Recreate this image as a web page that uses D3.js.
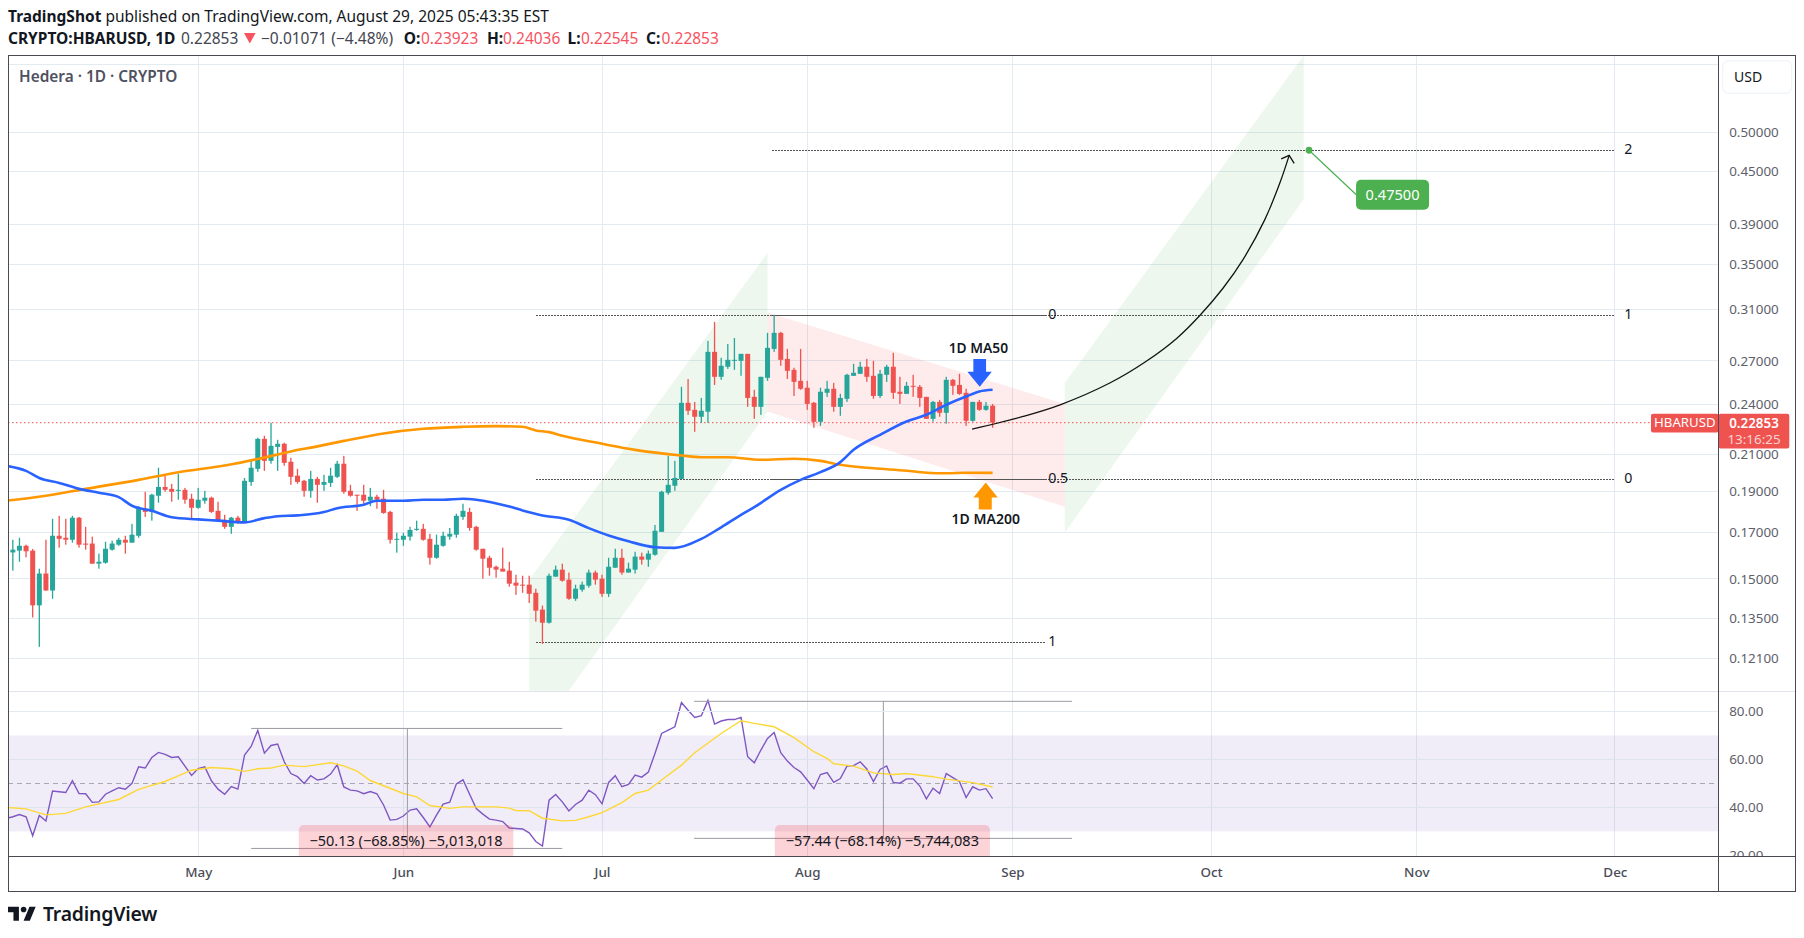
<!DOCTYPE html>
<html>
<head>
<meta charset="utf-8">
<title>CRYPTO:HBARUSD, 1D</title>
<script src="https://cdn.jsdelivr.net/npm/d3@7"></script>
<style>
  html, body { margin: 0; padding: 0; background: #fff; }
  svg { display: block; font-family: "Noto Sans", sans-serif; }
</style>
</head>
<body>
<div id="chart"></div>
<script>
// daily candles, first one is Apr 3 2025
const firstDay = Date.UTC(2025, 3, 3);

const candleOpen = [
  .1611,.1619,.1640,.1619,.1397,.1522,.1454,.1685,.1676,.1667,.1769,.1650,.1650,.1563,.1567,.1623,.1645,.1667,.1654,.1685,.1812,.1797,.1877,.1922,.1912,.1902,.1907,.1862,
  .1817,.1852,.1867,.1802,.1759,.1726,.1769,.1750,.1948,.2018,.2188,.2062,.2141,.2159,.2057,.1981,.1954,.1902,.1964,.1933,.1943,.1975,.2046,.1902,.1882,.1882,.1852,.1872,.1862,.1797,.1667,
  .1667,.1681,.1712,.1717,.1671,.1588,.1640,.1681,.1690,.1773,.1797,.1726,.1627,.1588,.1550,.1542,.1534,.1485,.1477,.1477,.1445,.1381,.1333,.1509,.1538,.1497,.1422,.1457,.1473,.1526,
  .1501,.1441,.1546,.1588,.1526,.1538,.1593,.1580,.1601,.1703,.1892,.1928,.1964,.2411,.2366,.2322,.2354,.2766,.2586,.2657,.2700,.2700,.2751,.2450,.2385,.2579,.2788,.2911,.2714,.2635,.2558,
  .2511,.2411,.2291,.2477,.2504,.2385,.2437,.2593,.2607,.2657,.2593,.2456,.2600,.2657,.2484,.2470,.2524,.2517,.2450,.2309,.2417,.2347,.2565,.2530,.2477,.2297,.2417,.2366,.23923
];
const candleHigh = [
  .1667,.1676,.1645,.1626,.1542,.1667,.1764,.1778,.1764,.1778,.1773,.1726,.1681,.1606,.1658,.1663,.1676,.1685,.1740,.1825,.1897,.1887,.2024,.1981,.1938,.1991,.1917,.1887,
  .1917,.1902,.1872,.1847,.1783,.1773,.1778,.1969,.2062,.2194,.2206,.2285,.2182,.2165,.2079,.2018,.1959,.2007,.1975,.1986,.2024,.2062,.2090,.1933,.1882,.1933,.1917,.1882,.1907,.1802,.1699,
  .1699,.1726,.1755,.1740,.1694,.1690,.1703,.1721,.1788,.1837,.1817,.1731,.1627,.1597,.1555,.1632,.1571,.1517,.1513,.1513,.1461,.1396,.1522,.1555,.1563,.1526,.1477,.1489,.1538,.1534,
  .1517,.1588,.1627,.1627,.1567,.1614,.1610,.1619,.1735,.1902,.2090,.2062,.2517,.2571,.2417,.2443,.2849,.2999,.2722,.2825,.2871,.2751,.2751,.2497,.2586,.2911,.3056,.2919,.2788,.2650,.2788,
  .2558,.2417,.2511,.2558,.2544,.2470,.2607,.2678,.2693,.2714,.2700,.2635,.2671,.2759,.2586,.2551,.2600,.2530,.2450,.2424,.2430,.2586,.2571,.2607,.2504,.2417,.2430,.2417,.24036
];
const candleLow = [
  .1534,.1571,.1590,.1352,.1249,.1453,.1422,.1632,.1645,.1654,.1632,.1623,.1563,.1542,.1563,.1619,.1640,.1606,.1654,.1676,.1773,.1755,.1842,.1897,.1847,.1857,.1837,.1759,
  .1812,.1837,.1792,.1750,.1717,.1694,.1740,.1750,.1928,.2002,.2007,.2046,.2007,.2035,.1933,.1938,.1872,.1867,.1842,.1902,.1922,.1969,.1887,.1872,.1802,.1837,.1825,.1812,.1788,.1650,.1610,
  .1640,.1663,.1708,.1663,.1559,.1584,.1636,.1667,.1676,.1759,.1708,.1619,.1501,.1513,.1505,.1530,.1469,.1437,.1445,.1406,.1337,.1259,.1330,.1509,.1489,.1418,.1414,.1449,.1465,.1477,
  .1429,.1429,.1546,.1517,.1526,.1522,.1559,.1550,.1597,.1703,.1882,.1902,.1964,.2334,.2230,.2285,.2285,.2530,.2565,.2642,.2635,.2593,.2385,.2309,.2334,.2558,.2766,.2664,.2571,.2456,.2497,
  .2366,.2254,.2266,.2450,.2354,.2328,.2417,.2593,.2607,.2551,.2437,.2443,.2551,.2437,.2404,.2470,.2450,.2385,.2309,.2291,.2322,.2279,.2463,.2463,.2266,.2291,.2360,.2360,.22545
];
const candleClose = [
  .1623,.1640,.1616,.1397,.1522,.1454,.1685,.1671,.1667,.1769,.1645,.1645,.1563,.1571,.1627,.1650,.1667,.1654,.1690,.1812,.1797,.1882,.1922,.1907,.1897,.1907,.1857,.1817,
  .1857,.1867,.1797,.1755,.1726,.1769,.1750,.1954,.2024,.2188,.2062,.2147,.2159,.2051,.1975,.1948,.1902,.1964,.1933,.1948,.1981,.2046,.1897,.1877,.1877,.1852,.1872,.1857,.1792,.1667,.1671,
  .1685,.1712,.1717,.1667,.1588,.1645,.1685,.1694,.1778,.1802,.1721,.1623,.1584,.1546,.1538,.1530,.1481,.1473,.1473,.1441,.1377,.1333,.1513,.1538,.1493,.1422,.1461,.1477,.1526,.1497,
  .1441,.1550,.1588,.1526,.1542,.1593,.1580,.1606,.1708,.1897,.1933,.1969,.2411,.2360,.2322,.2360,.2766,.2586,.2664,.2707,.2707,.2751,.2443,.2385,.2586,.2796,.2911,.2707,.2628,.2551,.2504,
  .2404,.2291,.2484,.2504,.2385,.2443,.2600,.2614,.2657,.2586,.2456,.2607,.2657,.2477,.2470,.2524,.2517,.2443,.2309,.2417,.2347,.2565,.2524,.2470,.2297,.2417,.2366,.2392,.22853
];

// moving averages, read at these days (days after Apr 3)
const ma50Days = [-1,2,4,7,10,13,16,18,21,24,28,31,35,38,40,43,47,49,53,55,59,62,65,68,70,75,77,80,84,87,90,93,97,100,104,107,110,112,116,119,122,125,127,131,135,138,141,144,146,148];
const ma50Values = [.2035,.2007,.1969,.1943,.1912,.1892,.1870,.1827,.1802,.1771,.1761,.1755,.1747,.1767,.1776,.1780,.1796,.1815,.1832,.1852,.1852,.1857,.1857,.1862,.1857,.1823,.1804,.1780,.1759,.1720,.1686,.1660,.1634,.1631,.1671,.1724,.1783,.1820,.1907,.1959,.2000,.2055,.2124,.2212,.2293,.2335,.2398,.2452,.2486,.2497];
const ma200Days = [-1,5,11,19,25,32,37,42,46,50,56,62,68,73,77,79,81,83,89,94,101,104,108,113,118,122,125,130,135,138,141,144,148];
const ma200Values = [.1852,.1877,.1912,.1959,.2000,.2036,.2072,.2115,.2144,.2176,.2220,.2248,.2260,.2264,.2260,.2238,.2228,.2206,.2159,.2124,.2092,.2082,.2082,.2068,.2074,.2062,.2040,.2021,.2008,.1997,.1994,.1997,.1996];

// RSI, one value a day starting Apr 2
const rsiValues = [
  35.4,36.1,37.0,36.1,28.2,36.6,34.3,46.8,46.5,46.2,51.1,45.8,45.7,42.1,42.3,45.5,46.9,48.2,47.6,50.0,56.9,56.4,60.8,62.9,62.1,60.8,61.1,57.2,53.3,
  56.2,56.9,51.1,47.6,45.5,48.7,47.6,61.8,65.4,72.1,62.6,65.8,66.4,59.0,54.1,52.8,50.0,53.2,51.4,51.9,53.9,57.8,48.5,47.2,46.9,45.7,46.6,45.7,41.0,34.7,
  35.0,36.4,38.9,39.4,35.8,31.9,36.8,41.4,42.2,49.8,51.5,45.5,39.5,37.2,35.1,34.7,34.1,31.4,31.2,31.0,29.4,25.8,23.9,43.0,45.4,42.3,38.5,41.2,43.0,47.2,45.3,
  41.5,50.4,53.2,48.6,49.6,53.5,52.6,54.7,62.5,70.8,72.2,73.6,83.7,80.5,77.5,78.2,84.6,74.7,76.0,76.6,76.6,77.5,61.1,58.6,63.9,68.7,71.2,62.8,59.3,56.6,54.8,
  51.4,47.8,53.7,54.5,50.4,52.0,57.2,57.4,59.0,56.0,50.8,55.8,57.3,50.4,50.1,51.9,51.9,48.9,43.6,48.0,45.8,54.1,52.4,50.7,44.1,48.6,47.2,47.8,43.7
];
const rsiMaDays = [-1,2,5,8,11,16,19,23,27,30,33,35,37,39,41,44,48,50,52,54,59,61,63,66,68,73,75,76,78,80,83,85,87,89,92,94,96,98,101,103,107,110,112,115,118,121,123,124,127,130,133,135,139,141,145,148];
const rsiMaValues = [40.0,39.4,36.9,37.5,40.2,43.3,47.5,50.8,55.5,56.6,56.1,55.0,56.1,56.4,57.6,57.0,58.6,57.3,55.1,51.2,45.8,44.4,40.8,39.6,40.2,40.2,39.7,38.7,38.6,35.5,34.4,34.6,36.1,37.8,42.0,45.8,47.2,51.4,57.6,62.8,70.8,76.1,75.0,73.6,69.1,63.2,60.4,58.2,57.2,54.4,53.7,54.1,52.8,51.8,50.3,48.5];

// axes
const priceTicks = [0.6, 0.5, 0.45, 0.39, 0.35, 0.31, 0.27, 0.24, 0.21, 0.19, 0.17, 0.15, 0.135, 0.121];
const priceLabelled = [0.5, 0.45, 0.39, 0.35, 0.31, 0.27, 0.24, 0.21, 0.19, 0.17, 0.15, 0.135, 0.121];
const rsiTicks = [80, 60, 40, 20];
const monthTicks = [4, 5, 6, 7, 8, 9, 10, 11].map(m => new Date(Date.UTC(2025, m, 1)));

// drawings, [days after Apr 3, price]
const greenChannelA = [[78, .111], [78, .1497], [114, .3611], [114, .2353], [84, .111]];
const redChannel = [[114, .3075], [158.9, .2404], [158.9, .1822], [114, .2355]];
const greenChannelB = [[158.9, .2544], [195, .6147], [195, .4174], [158.9, .1699]];
const fibSetA = [{ label: '0', price: .3048 }, { label: '0.5', price: .1959 }, { label: '1', price: .1265 }];
const fibSetB = [{ label: '2', price: .4762 }, { label: '1', price: .3048 }, { label: '0', price: .1959 }];
const curveDays = [144.9, 152.6, 158.2, 165.7, 171.1, 175.8, 179.3, 182.8, 185.8, 189.1, 191.4, 192.8];
const curvePrices = [.2246, .2324, .2398, .2543, .2693, .2868, .3051, .3283, .3544, .3947, .4362, .4697];
const measures = [
  { from: 36, to: 83, mid: 59.6, top: 72.9, bottom: 22.9, text: '\u221250.13 (\u221268.85%) \u22125,013,018', boxFrom: 43.2, boxTo: 75.6 },
  { from: 102.9, to: 160, mid: 131.5, top: 84.2, bottom: 27.1, text: '\u221257.44 (\u221268.14%) \u22125,744,083', boxFrom: 115.1, boxTo: 147.6 }
];

const width = 1804, height = 938;
const left = 8, right = 1718.7, outerRight = 1795;
const plotTop = 55.5, paneBottom = 691, axisTop = 856, axisBottom = 891;

const upColor = '#26a69a', downColor = '#ef5350', gridColor = '#e3ebf2', frameColor = '#4a4a55';

const day = i => new Date(firstDay + i * 864e5);

const x = d3.scaleUtc()
  .domain([new Date(Date.UTC(2025, 3, 2, 6, 30)), new Date(Date.UTC(2025, 11, 16, 16, 20))])
  .range([left, right]);
const y = d3.scaleLog().domain([.6147, .1109]).range([plotTop, paneBottom]);
const yRsi = d3.scaleLinear().domain([88.5, 19.75]).range([paneBottom, axisTop]);

const svg = d3.select('#chart').append('svg').attr('width', width).attr('height', height);

const defs = svg.append('defs');
defs.append('clipPath').attr('id', 'main-clip').append('rect')
  .attr('x', left).attr('y', plotTop).attr('width', right - left).attr('height', paneBottom - plotTop);
defs.append('clipPath').attr('id', 'rsi-clip').append('rect')
  .attr('x', left).attr('y', paneBottom).attr('width', right - left).attr('height', axisTop - paneBottom);
defs.append('clipPath').attr('id', 'rsi-axis-clip').append('rect')
  .attr('x', right).attr('y', paneBottom).attr('width', outerRight - right).attr('height', axisTop - paneBottom);

// header lines
const header = svg.append('text').attr('x', 8).attr('y', 22).attr('font-size', 15.5).attr('fill', '#131722');
header.append('tspan').attr('font-weight', 700).text('TradingShot');
header.append('tspan').text(' published on TradingView.com, August 29, 2025 05:43:35 EST');

const quote = svg.append('text').attr('y', 44).attr('font-size', 15.5).attr('fill', '#131722');
[
  ['CRYPTO:HBARUSD, 1D', 8, 700, '#131722'],
  ['0.22853', 181, 400, '#434651'],
  ['\u22120.01071 (\u22124.48%)', 261, 400, '#434651'],
  ['O:', 403.7, 700, '#131722'],
  ['0.23923', 421, 400, '#f7525f'],
  ['H:', 487, 700, '#131722'],
  ['0.24036', 503, 400, '#f7525f'],
  ['L:', 567.5, 700, '#131722'],
  ['0.22545', 581, 400, '#f7525f'],
  ['C:', 646, 700, '#131722'],
  ['0.22853', 661.5, 400, '#f7525f']
].forEach(([txt, px, weight, color]) => {
  quote.append('tspan').attr('x', px).attr('font-weight', weight).attr('fill', color).text(txt);
});
svg.append('path').attr('d', 'M244,33L255.6,33L249.8,43.5Z').attr('fill', '#f7525f');

// grid
const grid = svg.append('g').attr('shape-rendering', 'crispEdges');
grid.selectAll('.h').data(priceTicks).join('line')
  .attr('x1', left).attr('x2', right)
  .attr('y1', d => y(d)).attr('y2', d => y(d))
  .attr('stroke', gridColor);
grid.selectAll('.v').data(monthTicks).join('line')
  .attr('x1', d => x(d)).attr('x2', d => x(d))
  .attr('y1', plotTop).attr('y2', axisTop)
  .attr('stroke', gridColor);

// rsi pane background
const rsiPane = svg.append('g').attr('clip-path', 'url(#rsi-clip)');
rsiPane.append('rect')
  .attr('x', left).attr('width', right - left)
  .attr('y', yRsi(70)).attr('height', yRsi(30) - yRsi(70))
  .attr('fill', '#7e57c2').attr('fill-opacity', .11);
rsiPane.selectAll('.rsi-grid').data([60, 40]).join('line')
  .attr('x1', left).attr('x2', right)
  .attr('y1', d => yRsi(d)).attr('y2', d => yRsi(d))
  .attr('stroke', '#dfe3f0').attr('shape-rendering', 'crispEdges');
rsiPane.append('line')
  .attr('x1', left).attr('x2', right)
  .attr('y1', yRsi(50)).attr('y2', yRsi(50))
  .attr('stroke', '#a8a8b0').attr('stroke-dasharray', '5 4').attr('shape-rendering', 'crispEdges');
svg.append('line')
  .attr('x1', left).attr('x2', outerRight)
  .attr('y1', paneBottom).attr('y2', paneBottom)
  .attr('stroke', '#e0e3eb').attr('shape-rendering', 'crispEdges');
svg.append('line')
  .attr('x1', left).attr('x2', right)
  .attr('y1', yRsi(80)).attr('y2', yRsi(80))
  .attr('stroke', gridColor).attr('shape-rendering', 'crispEdges');

// main pane
const main = svg.append('g').attr('clip-path', 'url(#main-clip)');
const polyLine = d3.line().x(d => x(day(d[0]))).y(d => y(d[1]));

main.append('path').attr('d', polyLine(greenChannelA) + 'Z').attr('fill', '#4caf50').attr('fill-opacity', .1);
main.append('path').attr('d', polyLine(greenChannelB) + 'Z').attr('fill', '#4caf50').attr('fill-opacity', .1);
main.append('path').attr('d', polyLine(redChannel) + 'Z').attr('fill', '#f23645').attr('fill-opacity', .1);

// last price line
main.append('line')
  .attr('x1', left).attr('x2', right)
  .attr('y1', y(.22853)).attr('y2', y(.22853))
  .attr('stroke', downColor).attr('stroke-dasharray', '1.5 2.5');

function drawFib(levels, fromDay, toDay) {
  main.selectAll(null).data(levels).join('line')
    .attr('x1', x(day(fromDay))).attr('x2', x(day(toDay)))
    .attr('y1', d => y(d.price)).attr('y2', d => y(d.price))
    .attr('stroke', '#555').attr('stroke-dasharray', '2 1').attr('shape-rendering', 'crispEdges');
}
drawFib(fibSetA, 79, 156);
drawFib(fibSetB, 114.7, 242);

const candles = candleOpen.map((open, i) => ({
  date: day(i), open, high: candleHigh[i], low: candleLow[i], close: candleClose[i]
}));
const bars = main.append('g').selectAll('g').data(candles).join('g')
  .attr('fill', d => d.close >= d.open ? upColor : downColor);
bars.append('rect')
  .attr('x', d => x(d.date) - .65).attr('width', 1.3)
  .attr('y', d => y(d.high)).attr('height', d => y(d.low) - y(d.high));
bars.append('rect')
  .attr('x', d => x(d.date) - 2.5).attr('width', 5)
  .attr('y', d => y(Math.max(d.open, d.close)))
  .attr('height', d => Math.max(1, Math.abs(y(d.open) - y(d.close))));

const maLine = d3.line().curve(d3.curveMonotoneX).x(d => x(day(d[0]))).y(d => y(d[1]));
main.append('path').attr('d', maLine(d3.zip(ma200Days, ma200Values)))
  .attr('fill', 'none').attr('stroke', '#ff9800').attr('stroke-width', 2.6);
main.append('path').attr('d', maLine(d3.zip(ma50Days, ma50Values)))
  .attr('fill', 'none').attr('stroke', '#2962ff').attr('stroke-width', 2.6);

// forecast curve
const tipX = x(day(192.8)), tipY = y(.4697);
main.append('path')
  .attr('d', d3.line().curve(d3.curveCatmullRom).x(d => x(day(d[0]))).y(d => y(d[1]))(d3.zip(curveDays, curvePrices)))
  .attr('fill', 'none').attr('stroke', '#131313').attr('stroke-width', 1.3);
main.append('path')
  .attr('d', `M${tipX - 8},${tipY + 3.5}L${tipX},${tipY}L${tipX + 5},${tipY + 8}`)
  .attr('fill', 'none').attr('stroke', '#131313').attr('stroke-width', 1.3);

// fib labels
const fibLabel = (levels, labelDay) => main.selectAll(null).data(levels).join('text')
  .attr('x', x(day(labelDay))).attr('y', d => y(d.price))
  .attr('dy', '.25em')
  .attr('font-size', 14.2).attr('fill', '#131722')
  .text(d => d.label);
fibLabel(fibSetA, 156.4);
fibLabel(fibSetB, 243.4);

// MA markers
const maTip = x(day(146));
main.append('path')
  .attr('d', () => {
    const tx = maTip + .4, ty = y(.2518);
    return `M${tx},${ty}L${tx + 12},${ty - 15}L${tx + 6.3},${ty - 15}L${tx + 6.3},${ty - 27.7}L${tx - 6.4},${ty - 27.7}L${tx - 6.4},${ty - 15}L${tx - 12.4},${ty - 15}Z`;
  })
  .attr('fill', '#2962ff');
main.append('path')
  .attr('d', () => {
    const tx = maTip + 6.4, ty = y(.1945);
    return `M${tx},${ty}L${tx + 12},${ty + 15}L${tx + 6},${ty + 15}L${tx + 6},${ty + 27}L${tx - 7},${ty + 27}L${tx - 7},${ty + 15}L${tx - 12.4},${ty + 15}Z`;
  })
  .attr('fill', '#ff9800');
main.append('text').attr('x', maTip - 1).attr('y', y(.2796)).attr('dy', '.35em')
  .attr('text-anchor', 'middle').attr('font-size', 13.8).attr('font-weight', 600).attr('fill', '#131722')
  .text('1D MA50');
main.append('text').attr('x', maTip + 6.4).attr('y', y(.1764)).attr('dy', '.35em')
  .attr('text-anchor', 'middle').attr('font-size', 14).attr('font-weight', 600).attr('fill', '#131722')
  .text('1D MA200');

// price target callout
const targetX = x(day(195.8)), targetY = y(.4762);
main.append('line')
  .attr('x1', targetX).attr('y1', targetY)
  .attr('x2', targetX + 47).attr('y2', targetY + 44.3)
  .attr('stroke', '#4caf50').attr('stroke-width', 1.2);
main.append('circle').attr('cx', targetX).attr('cy', targetY).attr('r', 3.4).attr('fill', '#4caf50');
main.append('rect')
  .attr('x', targetX + 47).attr('y', targetY + 29.5).attr('width', 73).attr('height', 30).attr('rx', 5)
  .attr('fill', '#4caf50');
main.append('text')
  .attr('x', targetX + 83.5).attr('y', targetY + 44.5).attr('dy', '.35em')
  .attr('text-anchor', 'middle').attr('font-size', 14.6).attr('fill', '#fff')
  .text('0.47500');

main.append('text').attr('x', 19).attr('y', 76.7).attr('dy', '.35em')
  .attr('font-size', 15.4).attr('font-weight', 600).attr('fill', '#4e5160')
  .text('Hedera \u00B7 1D \u00B7 CRYPTO');

// rsi lines
const rsi = rsiPane.append('g');
rsi.append('path')
  .attr('d', d3.line().x((d, i) => x(day(i - 1))).y(d => yRsi(d))(rsiValues))
  .attr('fill', 'none').attr('stroke', '#7e57c2').attr('stroke-width', 1.4);
rsi.append('path')
  .attr('d', d3.line().x(d => x(day(d[0]))).y(d => yRsi(d[1]))(d3.zip(rsiMaDays, rsiMaValues)))
  .attr('fill', 'none').attr('stroke', '#fdd835').attr('stroke-width', 1.4);

// measure boxes
measures.forEach(m => {
  const g = rsiPane.append('g');
  g.selectAll('line.h').data([m.top, m.bottom]).join('line')
    .attr('x1', x(day(m.from))).attr('x2', x(day(m.to)))
    .attr('y1', d => yRsi(d)).attr('y2', d => yRsi(d))
    .attr('stroke', '#9b9ba3').attr('stroke-width', 1);
  g.append('line')
    .attr('x1', x(day(m.mid))).attr('x2', x(day(m.mid)))
    .attr('y1', yRsi(m.top)).attr('y2', yRsi(m.bottom))
    .attr('stroke', '#9b9ba3').attr('stroke-width', 1);
  g.append('rect')
    .attr('x', x(day(m.boxFrom))).attr('width', x(day(m.boxTo)) - x(day(m.boxFrom)))
    .attr('y', 825).attr('height', 34).attr('rx', 5)
    .attr('fill', '#f23645').attr('fill-opacity', .22);
  g.append('text')
    .attr('x', (x(day(m.boxFrom)) + x(day(m.boxTo))) / 2).attr('y', 840.5).attr('dy', '.35em')
    .attr('text-anchor', 'middle').attr('font-size', 14.5).attr('fill', '#131722')
    .text(m.text);
});

// price axis
const priceAxis = svg.append('g').attr('transform', `translate(${right},0)`)
  .call(d3.axisRight(y).tickValues(priceLabelled).tickFormat(d3.format('.5f')).tickSize(0).tickPadding(10.5));
const rsiAxis = svg.append('g').attr('clip-path', 'url(#rsi-axis-clip)')
  .append('g').attr('transform', `translate(${right},0)`)
  .call(d3.axisRight(yRsi).tickValues(rsiTicks).tickFormat(d3.format('.2f')).tickSize(0).tickPadding(10.5));
const timeAxis = svg.append('g').attr('transform', `translate(0,${axisTop})`)
  .call(d3.axisBottom(x).tickValues(monthTicks).tickFormat(d3.utcFormat('%b')).tickSize(0).tickPadding(11));
[priceAxis, rsiAxis, timeAxis].forEach(a => {
  a.select('.domain').remove();
  a.selectAll('text').attr('font-family', '"Noto Sans", sans-serif').attr('font-size', 13.4);
});
priceAxis.selectAll('text').attr('fill', '#5d606b');
rsiAxis.selectAll('text').attr('fill', '#5d606b');
timeAxis.selectAll('text').attr('fill', '#4a4d58').attr('font-weight', 500);

// USD button
svg.append('rect')
  .attr('x', 1722.7).attr('y', 60.7).attr('width', 69).attr('height', 32.6).attr('rx', 6)
  .attr('fill', '#fff').attr('stroke', '#f0f3fa').attr('stroke-width', 1.2);
svg.append('text').attr('x', 1734).attr('y', 76.7).attr('dy', '.35em')
  .attr('font-size', 14).attr('fill', '#131722').text('USD');

// last price tags
const lastY = y(.22853);
svg.append('rect').attr('x', 1651).attr('y', lastY - 9).attr('width', 67.7).attr('height', 18.7).attr('rx', 2).attr('fill', downColor);
svg.append('text').attr('x', 1684.8).attr('y', lastY).attr('dy', '.35em')
  .attr('text-anchor', 'middle').attr('font-size', 13.2).attr('fill', '#fff').text('HBARUSD');
svg.append('rect').attr('x', right).attr('y', lastY - 9).attr('width', 70.6).attr('height', 34.7).attr('rx', 2).attr('fill', downColor);
svg.append('text').attr('x', 1754).attr('y', lastY + .3).attr('dy', '.35em')
  .attr('text-anchor', 'middle').attr('font-size', 13.4).attr('font-weight', 600).attr('fill', '#fff').text('0.22853');
svg.append('text').attr('x', 1754).attr('y', lastY + 16.3).attr('dy', '.35em')
  .attr('text-anchor', 'middle').attr('font-size', 13.4).attr('fill', '#fbd3d3').text('13:16:25');

// frame
const frame = svg.append('g').attr('shape-rendering', 'crispEdges');
frame.append('rect')
  .attr('x', left).attr('y', plotTop).attr('width', outerRight - left).attr('height', axisBottom - plotTop)
  .attr('fill', 'none').attr('stroke', frameColor).attr('stroke-width', 1);
frame.append('line').attr('x1', right).attr('x2', right).attr('y1', plotTop).attr('y2', axisBottom)
  .attr('stroke', frameColor).attr('stroke-width', 1);
frame.append('line').attr('x1', left).attr('x2', outerRight).attr('y1', axisTop).attr('y2', axisTop)
  .attr('stroke', frameColor).attr('stroke-width', 1);

// logo
const logo = svg.append('g').attr('transform', 'translate(8,903.6) scale(.78)').attr('fill', '#131722');
logo.append('path').attr('d', 'M14 22H7V11H0V4h14v18zM28 22h-8l7.5-18h8L28 22z');
logo.append('circle').attr('cx', 20).attr('cy', 7.5).attr('r', 3.6);
svg.append('text').attr('x', 43).attr('y', 914).attr('dy', '.35em')
  .attr('font-size', 19.4).attr('font-weight', 600).attr('fill', '#131722').attr('letter-spacing', -.2)
  .text('TradingView');
</script>
</body>
</html>
